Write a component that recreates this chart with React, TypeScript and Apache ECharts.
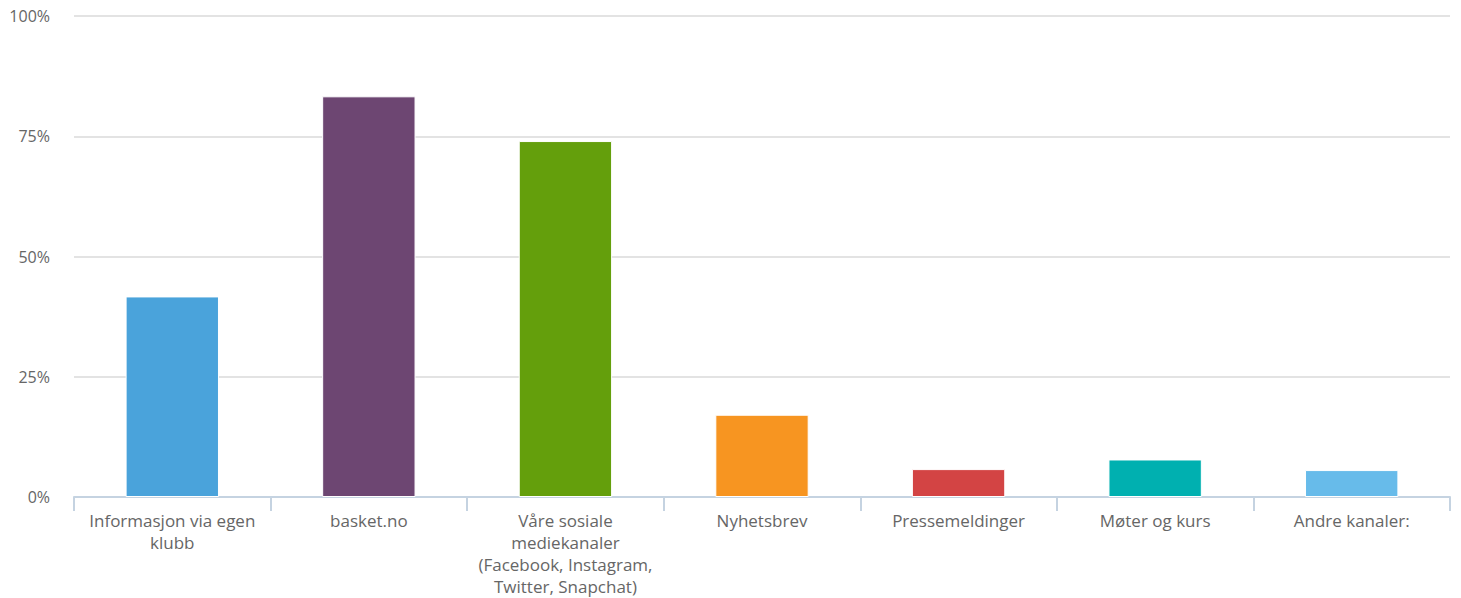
import React, { useEffect, useRef } from "react";
import * as echarts from "echarts";

const categories = [
  "Informasjon via egen\nklubb",
  "basket.no",
  "Våre sosiale\nmediekanaler\n(Facebook, Instagram,\nTwitter, Snapchat)",
  "Nyhetsbrev",
  "Pressemeldinger",
  "Møter og kurs",
  "Andre kanaler:",
];
const values = [41.7, 83.3, 74.0, 17.1, 5.8, 7.8, 5.6];
const colors = ["#4aa3db", "#6d4672", "#649f0c", "#f79521", "#d34444", "#00b0b0", "#67bbea"];
const yTicks = [0, 25, 50, 75, 100];

export default function App() {
  const ref = useRef<HTMLDivElement>(null);
  useEffect(() => {
    if (!ref.current) return;
    const chart = echarts.init(ref.current, undefined, { renderer: "svg" });
    chart.setOption({
      animation: false,
      grid: { left: 74, right: 11, top: 16, bottom: 101, containLabel: false },
      xAxis: {
        type: "category",
        data: categories,
        axisLine: { lineStyle: { color: "#c5d3e1", width: 2 } },
        axisTick: { show: true, length: 14, lineStyle: { color: "#c5d3e1", width: 2 } },
        axisLabel: {
          interval: 0,
          color: "#666666",
          fontFamily: "Open Sans",
          fontSize: 17,
          lineHeight: 22,
          margin: 12,
        },
      },
      yAxis: {
        type: "value",
        min: yTicks[0],
        max: yTicks[yTicks.length - 1],
        interval: 25,
        axisLine: { show: false },
        axisTick: { show: false },
        splitLine: { lineStyle: { color: "#dadada", width: 1.5 } },
        axisLabel: {
          formatter: "{value}%",
          color: "#666666",
          fontFamily: "Open Sans",
          fontSize: 16,
          margin: 24,
        },
      },
      series: [
        {
          type: "bar",
          data: values.map((v, i) => ({ value: v, itemStyle: { color: colors[i] } })),
          barWidth: "47.5%",
          itemStyle: { borderColor: "#ffffff", borderWidth: 1 },
        },
      ],
    });
    return () => chart.dispose();
  }, []);
  return (
    <div
      ref={ref}
      style={{ position: "fixed", left: 0, top: 0, width: 1461, height: 598, background: "#fff" }}
    />
  );
}
